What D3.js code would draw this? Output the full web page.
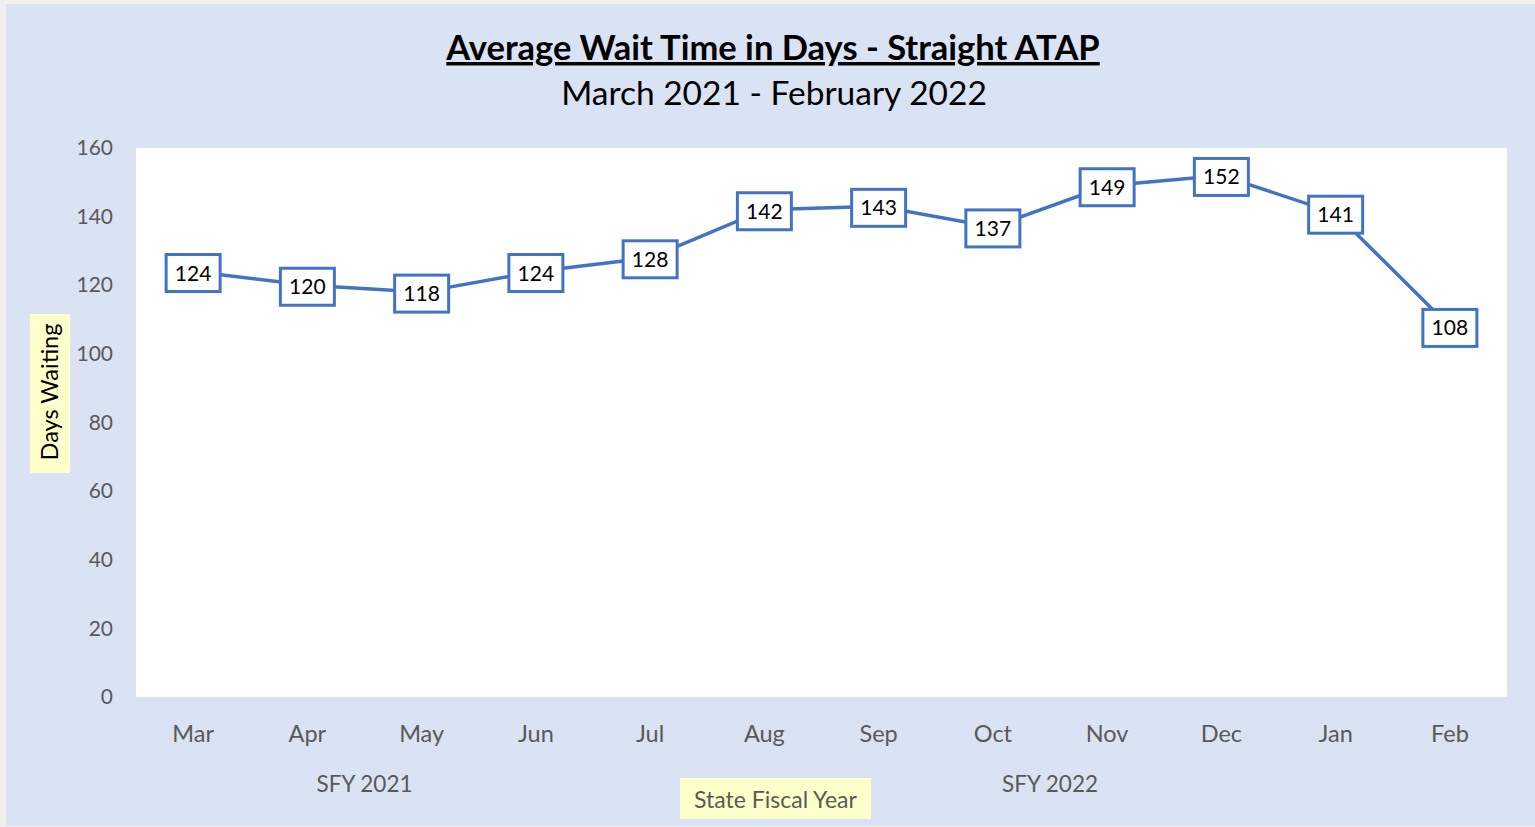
<!DOCTYPE html>
<html><head><meta charset="utf-8">
<script src="https://cdn.jsdelivr.net/npm/d3@7"></script>
<style>html,body{margin:0;padding:0;background:#f2f2f2;}svg{display:block;}</style>
</head><body>
<svg id="chart" width="1535" height="827"></svg>
<script>
const months = ["Mar","Apr","May","Jun","Jul","Aug","Sep","Oct","Nov","Dec","Jan","Feb"];
const waitDays = [124,120,118,124,128,142,143,137,149,152,141,108];
const yTicks = [0,20,40,60,80,100,120,140,160];
const fiscalYears = [{label:"SFY 2021", first:"Mar", last:"Jun"},{label:"SFY 2022", first:"Jul", last:"Feb"}];
const titleText = "Average Wait Time in Days - Straight ATAP";
const subtitleText = "March 2021 - February 2022";

const FONT = "Lato, 'Open Sans', sans-serif";
const svg = d3.select("#chart");
svg.append("rect").attr("x",0).attr("y",0).attr("width",1535).attr("height",827).attr("fill","#f0f0f0");
svg.append("rect").attr("x",6).attr("y",4).attr("width",1529).attr("height",822).attr("fill","#dae3f3");

const pL=136, pR=1507, pT=148, pB=697;
svg.append("rect").attr("x",pL).attr("y",pT).attr("width",pR-pL).attr("height",pB-pT).attr("fill","#ffffff");

const x = d3.scaleBand().domain(months).range([pL,pR]);
const y = d3.scaleLinear().domain([0,160]).range([pB,pT]);
const cx = m => x(m)+x.bandwidth()/2;

// title
svg.append("text").attr("x",773).attr("y",60).attr("text-anchor","middle")
  .attr("font-family",FONT).attr("font-weight","bold").attr("font-size",34.5).attr("fill","#000")
  .attr("text-decoration","underline").text(titleText);
svg.append("text").attr("x",774).attr("y",105).attr("text-anchor","middle")
  .attr("font-family",FONT).attr("font-size",33.5).attr("fill","#000").text(subtitleText);

// y axis
const yAxis = d3.axisLeft(y).tickValues(yTicks).tickSize(0).tickPadding(23);
const gy = svg.append("g").attr("transform",`translate(${pL},0)`).call(yAxis);
gy.select(".domain").remove();
gy.selectAll("text").attr("font-family",FONT).attr("font-size",21).attr("fill","#595959");

// x axis
const xAxis = d3.axisBottom(x).tickSize(0).tickPadding(28);
const gx = svg.append("g").attr("transform",`translate(0,${pB})`).call(xAxis);
gx.select(".domain").remove();
gx.selectAll("text").attr("font-family",FONT).attr("font-size",23.5).attr("fill","#595959");

// fiscal year group labels
svg.selectAll("text.sfy").data(fiscalYears).enter().append("text").attr("class","sfy")
  .attr("x",d=>(cx(d.first)+cx(d.last))/2).attr("y",792).attr("text-anchor","middle")
  .attr("font-family",FONT).attr("font-size",22.5).attr("fill","#595959").text(d=>d.label);

// axis titles
svg.append("rect").attr("x",680).attr("y",778).attr("width",191).attr("height",41).attr("fill","#ffffcc");
svg.append("text").attr("x",775.5).attr("y",808).attr("text-anchor","middle")
  .attr("font-family",FONT).attr("font-size",23).attr("fill","#595959").text("State Fiscal Year");
svg.append("rect").attr("x",30).attr("y",314).attr("width",40).attr("height",159).attr("fill","#ffffcc");
svg.append("text").attr("transform","translate(58,392) rotate(-90)").attr("text-anchor","middle")
  .attr("font-family",FONT).attr("font-size",23.5).attr("fill","#000").text("Days Waiting");

// line
const line = d3.line().x((d,i)=>cx(months[i])).y(d=>y(d));
svg.append("path").datum(waitDays).attr("d",line).attr("fill","none")
  .attr("stroke","#4472c4").attr("stroke-width",3.5);

// labels
const lab = svg.selectAll("g.lab").data(waitDays).enter().append("g").attr("class","lab")
  .attr("transform",(d,i)=>`translate(${cx(months[i])},${y(d)})`);
lab.append("rect").attr("x",-27).attr("y",-17).attr("width",54).attr("height",37)
  .attr("fill","#fff").attr("stroke","#4472c4").attr("stroke-width",3);
lab.append("text").attr("y",9).attr("text-anchor","middle").attr("font-family",FONT)
  .attr("font-size",21).attr("fill","#000").text(d=>d);
</script>
</body></html>
